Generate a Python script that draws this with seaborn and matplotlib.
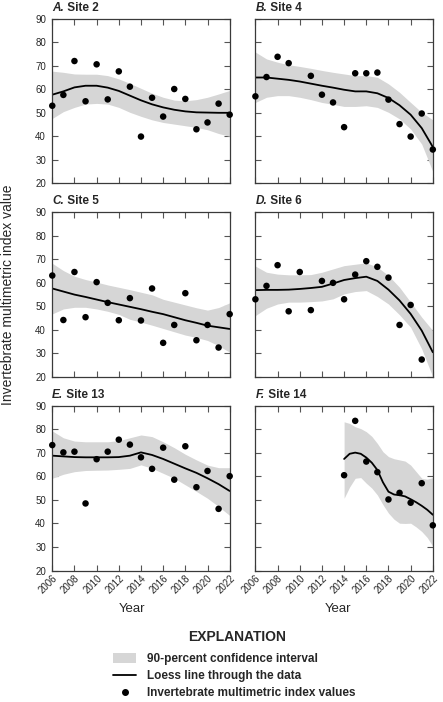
import numpy as np
import pandas as pd
import matplotlib
matplotlib.use('Agg')
import matplotlib.pyplot as plt
from matplotlib.patches import Patch
from matplotlib.lines import Line2D
import seaborn as sns

# ---- data ----
years = list(range(2006, 2023))
nan = np.nan

site2_values = [53.0, 57.6, 72.0, 54.9, 70.6, 55.7, 67.6, 61.1, 39.9, 56.4, 48.4, 60.1, 55.9, 43.0, 45.9, 53.9, 49.2]
site2_loess = [57.7, 59.1, 60.8, 61.5, 61.5, 60.7, 59.3, 57.3, 55.3, 53.6, 52.3, 51.3, 50.6, 50.2, 50.1, 50.0, 50.0]
site2_lower = [47.6, 50.5, 52.3, 53.7, 54.0, 53.7, 52.3, 50.2, 48.5, 47.0, 45.9, 45.2, 44.5, 43.8, 42.8, 41.2, 40.0]
site2_upper = [67.7, 67.2, 66.5, 66.4, 66.4, 65.8, 64.4, 62.5, 60.4, 58.3, 56.6, 55.4, 55.1, 55.6, 56.6, 58.0, 59.5]

site4_values = [57.0, 65.2, 73.8, 71.1, nan, 65.7, 57.7, 54.4, 43.9, 66.8, 66.8, 67.1, 55.6, 45.2, 39.9, 49.7, 34.4]
site4_loess = [65.0, 65.0, 64.5, 64.0, 63.3, 62.4, 61.5, 60.7, 59.8, 59.1, 59.1, 58.3, 56.3, 53.2, 49.2, 43.5, 35.5]
site4_lower = [54.4, 56.6, 57.3, 57.3, 56.6, 55.6, 54.4, 53.6, 52.7, 52.7, 53.0, 52.3, 50.2, 47.4, 43.1, 36.7, 25.0]
site4_upper = [75.8, 72.9, 71.5, 70.4, 69.7, 68.9, 68.0, 67.2, 66.5, 65.8, 65.8, 65.1, 62.3, 58.7, 54.4, 50.2, 47.0]

site5_values = [63.1, 44.2, 64.6, 45.4, 60.3, 51.5, 44.1, 53.5, 44.0, 57.6, 34.5, 42.1, 55.6, 35.6, 42.1, 32.5, 46.7]
site5_loess = [57.6, 56.3, 55.0, 54.0, 52.9, 51.8, 50.8, 49.8, 48.8, 47.7, 46.7, 45.4, 44.1, 43.0, 41.8, 41.1, 40.4]
site5_lower = [46.8, 48.9, 49.6, 49.6, 48.9, 47.9, 46.6, 44.5, 43.3, 42.0, 40.6, 39.2, 37.8, 36.8, 35.5, 33.3, 30.5]
site5_upper = [68.3, 65.2, 62.8, 61.4, 60.3, 59.1, 58.1, 57.1, 56.0, 54.9, 53.0, 51.8, 50.6, 49.4, 48.4, 49.5, 51.5]

site6_values = [53.0, 58.7, 67.5, 47.9, 64.6, 48.4, 60.8, 60.0, 53.0, 63.5, 69.2, 66.8, 62.2, 42.1, 50.6, 27.4, nan]
site6_loess = [56.9, 57.0, 57.0, 57.1, 57.4, 57.8, 58.3, 59.7, 61.2, 62.0, 62.6, 60.8, 57.1, 52.5, 46.8, 39.7, 30.5]
site6_lower = [46.1, 49.2, 51.0, 51.8, 51.8, 52.0, 52.3, 53.2, 55.3, 56.3, 56.7, 54.2, 51.0, 46.4, 41.1, 31.9, 20.0]
site6_upper = [67.1, 64.5, 63.7, 63.4, 63.4, 63.5, 64.5, 65.9, 67.3, 67.9, 68.5, 66.7, 63.1, 58.1, 51.8, 45.4, 39.7]

site13_values = [73.3, 70.2, 70.5, 48.5, 67.3, 70.5, 75.6, 73.5, 68.1, 63.2, 72.2, 58.6, 72.8, 55.4, 62.3, 46.2, 60.1]
site13_loess = [68.8, 68.5, 68.2, 68.1, 68.1, 68.1, 68.2, 68.8, 70.2, 69.1, 67.4, 65.4, 63.4, 61.5, 59.2, 56.7, 53.8]
site13_lower = [59.2, 60.9, 62.0, 62.5, 62.6, 62.7, 63.0, 63.4, 64.9, 63.4, 61.3, 59.2, 56.4, 53.6, 50.7, 47.2, 43.4]
site13_upper = [79.3, 76.4, 75.0, 74.7, 74.7, 74.7, 75.2, 76.4, 77.6, 76.9, 74.7, 72.2, 69.4, 67.0, 64.8, 63.7, 63.7]

site14_years = list(range(2014, 2023))
site14_values = [60.5, 83.6, 66.3, 61.8, 50.2, 53.0, 48.8, 57.1, 39.2]
site14_fit_years = [2014, 2014.5, 2015, 2015.5, 2016, 2016.5, 2017, 2017.5, 2018,
                    2018.5, 2019, 2019.5, 2020, 2020.5, 2021, 2021.5, 2022]
site14_loess = [67.4, 69.6, 70.1, 69.6, 68.0, 65.8, 62.7, 57.5, 53.5, 52.3, 52.0, 51.5, 50.3, 49.0, 47.5, 45.8, 43.7]
site14_lower = [50.7, 55.5, 59.2, 59.5, 57.1, 55.0, 52.1, 48.0, 44.4, 41.8, 40.1, 40.0, 40.1, 38.5, 36.6, 34.0, 30.3]
site14_upper = [83.2, 82.5, 81.1, 80.3, 79.0, 77.0, 74.0, 70.5, 68.4, 67.5, 67.0, 66.5, 64.8, 62.0, 59.2, 58.8, 59.5]

panels = [
    ('A.', 'Site 2', years, site2_values, years, site2_loess, site2_lower, site2_upper),
    ('B.', 'Site 4', years, site4_values, years, site4_loess, site4_lower, site4_upper),
    ('C.', 'Site 5', years, site5_values, years, site5_loess, site5_lower, site5_upper),
    ('D.', 'Site 6', years, site6_values, years, site6_loess, site6_lower, site6_upper),
    ('E.', 'Site 13', years, site13_values, years, site13_loess, site13_lower, site13_upper),
    ('F.', 'Site 14', site14_years, site14_values, site14_fit_years, site14_loess, site14_lower, site14_upper),
]

sns.set_style('ticks')
plt.rcParams['font.family'] = ['Liberation Sans Narrow', 'Liberation Sans', 'DejaVu Sans']

band_color = '#d6d6d6'
frame_color = '#3a3a3a'

fig, axes = plt.subplots(3, 2, figsize=(4.43, 7.02), dpi=100)
fig.subplots_adjust(left=0.118, right=0.977, top=0.9734, bottom=0.1873,
                    wspace=0.145, hspace=0.175)

for i, (letter, name, px, py, fx, fy, lo, hi) in enumerate(panels):
    ax = axes.flat[i]
    pts = pd.DataFrame({'Year': px, 'Value': py}).dropna()
    fit = pd.DataFrame({'Year': fx, 'Loess': fy, 'Lower': lo, 'Upper': hi})

    ax.fill_between(fit['Year'], fit['Lower'], fit['Upper'], color=band_color, lw=0, zorder=1)
    sns.lineplot(data=fit, x='Year', y='Loess', ax=ax, color='black', lw=1.3,
                 estimator=None, sort=False, zorder=2)
    sns.scatterplot(data=pts, x='Year', y='Value', ax=ax, color='black', s=22,
                    edgecolor='none', clip_on=False, zorder=5)

    ax.set_xlim(2006, 2022)
    ax.set_ylim(20, 90)
    ax.set_xticks(range(2006, 2023, 2))
    ax.set_yticks(range(20, 91, 10))
    ax.tick_params(direction='in', top=True, right=True, length=4.3, width=0.8,
                   color='#555555', labelsize=7, pad=4.5)
    ax.tick_params(axis='x', pad=2)
    for sp in ax.spines.values():
        sp.set_color(frame_color)
        sp.set_linewidth(0.9)
        sp.set_visible(True)

    col = i % 2
    row = i // 2
    ax.set_ylabel('')
    if col == 1:
        ax.tick_params(labelleft=False)
    if row < 2:
        ax.tick_params(labelbottom=False)
        ax.set_xlabel('')
    else:
        ax.set_xlabel('Year', fontsize=9.5, labelpad=4)
        ax.xaxis.set_label_coords(0.45 if col == 0 else 0.465, -0.2)
        for lab in ax.get_xticklabels():
            lab.set_rotation(45)
            lab.set_ha('right')
            lab.set_va('top')
            lab.set_rotation_mode('anchor')

    t = ax.text(0.0, 1.03, letter, transform=ax.transAxes, fontsize=8.5,
                fontweight='bold', fontstyle='italic', ha='left', va='bottom')
    ax.annotate(' ' + name, xy=(1, 0), xycoords=t, fontsize=8.5,
                fontweight='bold', ha='left', va='bottom')

fig.text(0.018, 1 - 294.6 / 702, 'Invertebrate multimetric index value',
         rotation=90, ha='center', va='center', fontsize=10)

# explanation
fig.text(237 / 443, 1 - 637 / 702, 'EXPLANATION', ha='center', va='center',
         fontsize=10, fontweight='bold')
handles = [
    Patch(facecolor=band_color, edgecolor='none'),
    Line2D([], [], color='black', lw=1.3),
    Line2D([], [], color='black', lw=0, marker='o', markersize=4),
]
labels = ['90-percent confidence interval',
          'Loess line through the data',
          'Invertebrate multimetric index values']
fig.legend(handles, labels, loc='upper left', bbox_to_anchor=(108 / 443, 1 - 648 / 702),
           frameon=False, prop={'weight': 'bold', 'size': 8.5},
           handlelength=2.0, handleheight=0.9, handletextpad=0.9, labelspacing=0.45,
           borderaxespad=0)

fig.savefig('out.png', dpi=100)
